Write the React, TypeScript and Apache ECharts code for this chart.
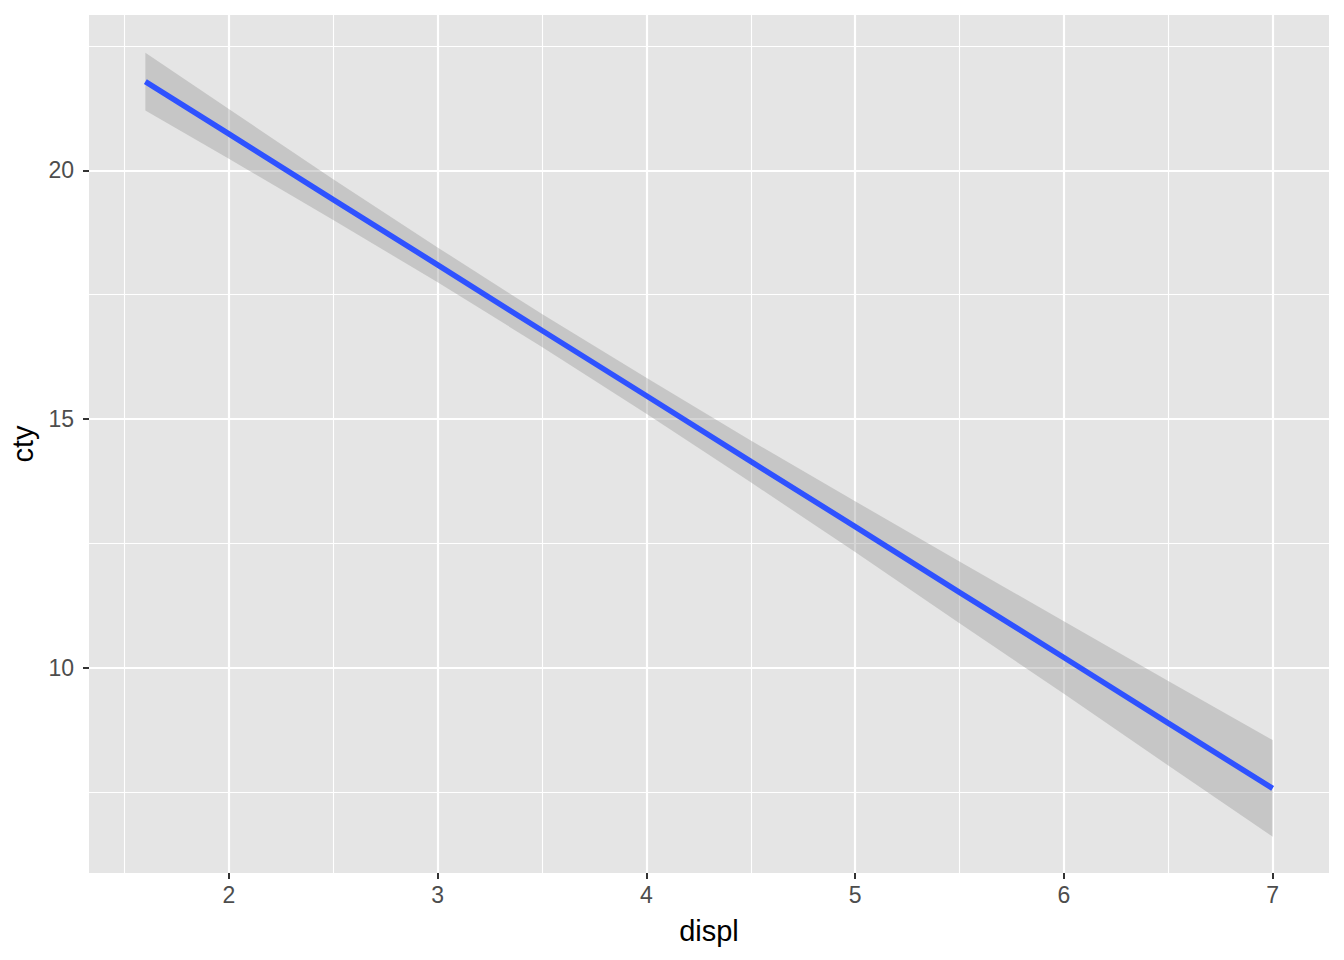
import React, { useEffect, useRef } from "react";
import * as echarts from "echarts";

// displ values at which the fitted line and its confidence band were read
const displ = [1.6, 2, 2.5, 3, 3.5, 4, 4.5, 5, 5.5, 6, 6.5, 7];
// fitted cty (blue line)
const fitCty = [21.78, 20.73, 19.41, 18.1, 16.78, 15.47, 14.15, 12.84, 11.52, 10.21, 8.89, 7.58];
// lower / upper edge of the grey confidence band
const lowerCty = [21.2, 20.23, 19.0, 17.75, 16.45, 15.11, 13.73, 12.33, 10.9, 9.48, 8.04, 6.61];
const upperCty = [22.36, 21.23, 19.82, 18.45, 17.11, 15.83, 14.57, 13.35, 12.14, 10.94, 9.74, 8.55];

// ticks
const xMajorTicks = [2, 3, 4, 5, 6, 7];
const xMinorTicks = [1.5, 2.5, 3.5, 4.5, 5.5, 6.5];
const yMajorTicks = [10, 15, 20];
const yMinorTicks = [7.5, 12.5, 17.5, 22.5];
const xRange = [1.33, 7.27];
const yRange = [5.88, 23.12];

const FONT = '"Liberation Sans", Arial, Helvetica, sans-serif';

export default function App() {
  const ref = useRef<HTMLDivElement>(null);

  useEffect(() => {
    if (!ref.current) return;
    const chart = echarts.init(ref.current, undefined, { renderer: "svg" });

    const gridLines = [
      ...xMinorTicks.map((v) => ({ xAxis: v, lineStyle: { width: 1.1 } })),
      ...yMinorTicks.map((v) => ({ yAxis: v, lineStyle: { width: 1.1 } })),
      ...xMajorTicks.map((v) => ({ xAxis: v, lineStyle: { width: 2.2 } })),
      ...yMajorTicks.map((v) => ({ yAxis: v, lineStyle: { width: 2.2 } })),
    ];

    const bandData = displ.map((x, i) => [x, lowerCty[i], upperCty[i]]);

    const option: any = {
      animation: false,
      backgroundColor: "#ffffff",
      textStyle: { fontFamily: FONT },
      grid: {
        left: 89,
        right: 15,
        top: 15,
        bottom: 87,
        show: true,
        backgroundColor: "#E5E5E5",
        borderWidth: 0,
      },
      xAxis: {
        type: "value",
        min: xRange[0],
        max: xRange[1],
        name: "displ",
        nameLocation: "middle",
        nameGap: 43,
        nameTextStyle: { fontSize: 29, color: "#000000", fontFamily: FONT },
        axisLine: { show: false },
        axisTick: {
          show: true,
          length: 6,
          customValues: xMajorTicks,
          lineStyle: { color: "#333333", width: 2 },
        },
        axisLabel: {
          customValues: xMajorTicks,
          fontSize: 23,
          color: "#4D4D4D",
          margin: 10,
          fontFamily: FONT,
        },
        splitLine: { show: false },
      },
      yAxis: {
        type: "value",
        min: yRange[0],
        max: yRange[1],
        name: "cty",
        nameLocation: "middle",
        nameGap: 48,
        nameTextStyle: { fontSize: 29, color: "#000000", fontFamily: FONT },
        axisLine: { show: false },
        axisTick: {
          show: true,
          length: 6,
          customValues: yMajorTicks,
          lineStyle: { color: "#333333", width: 2 },
        },
        axisLabel: {
          customValues: yMajorTicks,
          fontSize: 23,
          color: "#4D4D4D",
          margin: 15,
          fontFamily: FONT,
        },
        splitLine: { show: false },
      },
      series: [
        {
          type: "line",
          data: [],
          z: 1,
          silent: true,
          markLine: {
            silent: true,
            z: 1,
            symbol: ["none", "none"],
            label: { show: false },
            emphasis: { disabled: true },
            lineStyle: { color: "#FFFFFF", type: "solid" },
            data: gridLines,
          },
        },
        {
          type: "custom",
          z: 2,
          silent: true,
          data: bandData,
          encode: { x: 0, y: [1, 2] },
          renderItem: (params: any, api: any) => {
            if (params.dataIndex !== 0) return null;
            const pts: number[][] = [];
            for (let i = 0; i < displ.length; i++) {
              pts.push(api.coord([displ[i], upperCty[i]]));
            }
            for (let i = displ.length - 1; i >= 0; i--) {
              pts.push(api.coord([displ[i], lowerCty[i]]));
            }
            return {
              type: "polygon",
              shape: { points: pts },
              style: { fill: "rgba(153,153,153,0.4)", stroke: "none" },
            };
          },
        },
        {
          type: "line",
          z: 3,
          silent: true,
          data: displ.map((x, i) => [x, fitCty[i]]),
          showSymbol: false,
          symbol: "none",
          lineStyle: { color: "#2F52FF", width: 5.5 },
        },
      ],
    };

    chart.setOption(option);
    return () => chart.dispose();
  }, []);

  return (
    <div
      ref={ref}
      style={{ position: "absolute", left: 0, top: 0, width: 1344, height: 960 }}
    />
  );
}
